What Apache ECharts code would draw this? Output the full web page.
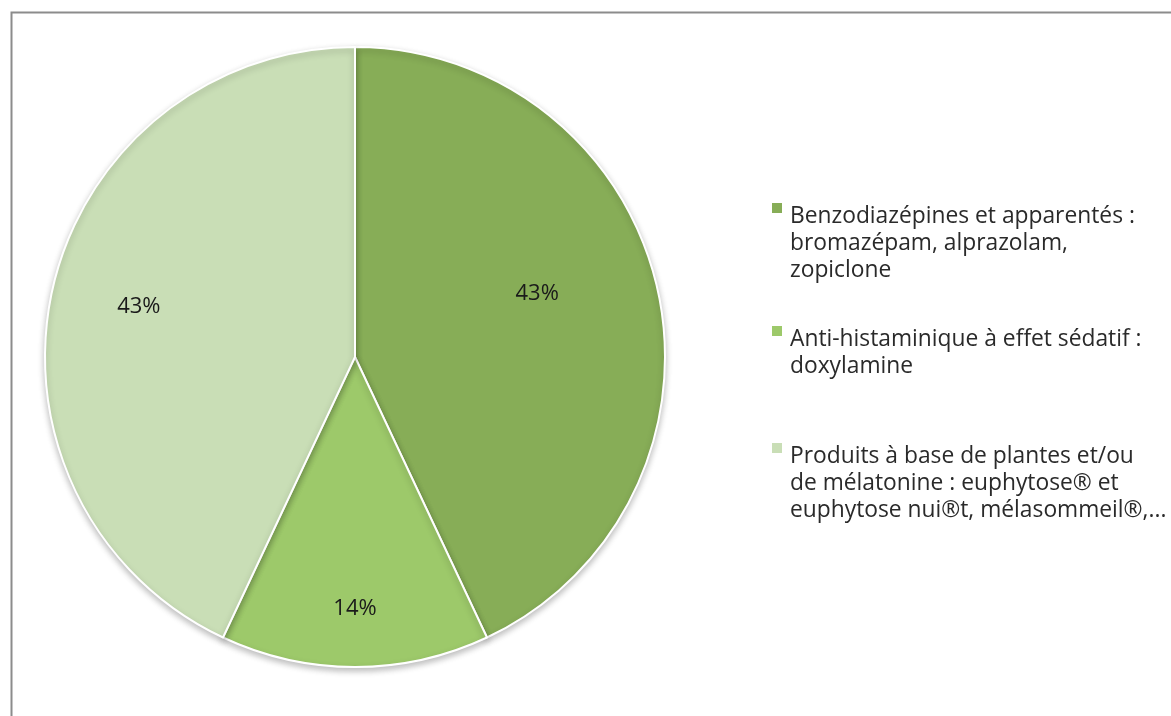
<!DOCTYPE html>
<html>
<head>
<meta charset="utf-8">
<script src="https://cdn.jsdelivr.net/npm/echarts@6/dist/echarts.min.js"></script>
<style>
  html, body { margin: 0; padding: 0; background: #ffffff; }
  #chart { width: 1171px; height: 716px; }
</style>
</head>
<body>
<div id="chart"></div>
<script>
// Share of sleep medication types
const categories = [
  'Benzodiazépines et apparentés :\nbromazépam, alprazolam,\nzopiclone',
  'Anti-histaminique à effet sédatif :\ndoxylamine',
  'Produits à base de plantes et/ou\nde mélatonine : euphytose® et\neuphytose nui®t, mélasommeil®,...'
];
const values = [43, 14, 43];
const colors = ['#87ad57', '#9dc96a', '#c9deb6'];
// nudges for the percentage labels inside each slice
const labelOffsets = [[28, -29], [0, 94], [-62, -16]];
const legendTops = [202, 325, 442];

const FONT = '"Open Sans", "DejaVu Sans", sans-serif';

const chart = echarts.init(document.getElementById('chart'));

const rich = {
  ind: { width: 18, height: 10 },
  g: { width: 8 },
  t: { fontFamily: FONT, fontSize: 22.8, color: '#2a2a2a', lineHeight: 27 }
};
colors.forEach((c, i) => {
  rich['m' + i] = { width: 10, height: 10, backgroundColor: c, verticalAlign: 'top' };
});

const legends = categories.map((name, i) => ({
  data: [name],
  orient: 'vertical',
  left: 766,
  top: legendTops[i],
  padding: 0,
  itemWidth: 0,
  itemHeight: 0,
  itemGap: 0,
  selectedMode: false,
  icon: 'rect',
  formatter: function (n) {
    const idx = categories.indexOf(n);
    return n.split('\n').map((line, k) =>
      (k === 0 ? '{m' + idx + '| }{g|}' : '{ind|}') + '{t|' + line + '}'
    ).join('\n');
  },
  textStyle: { rich: rich, padding: 0 }
}));

chart.setOption({
  animation: false,
  backgroundColor: '#ffffff',
  graphic: [{
    type: 'rect',
    left: 9, top: 10,
    shape: { width: 1300, height: 900 },
    style: { fill: 'none', stroke: '#8c8c8c', lineWidth: 2 },
    silent: true
  }],
  legend: legends,
  series: [{
    type: 'pie',
    center: [355, 357],
    radius: 310,
    startAngle: 90,
    clockwise: true,
    avoidLabelOverlap: false,
    itemStyle: {
      borderColor: '#ffffff',
      borderWidth: 2,
      shadowBlur: 6,
      shadowOffsetY: 3,
      shadowColor: 'rgba(0,0,0,0.25)'
    },
    emphasis: { disabled: true },
    label: {
      show: true,
      position: 'inside',
      formatter: '{c}%',
      fontFamily: FONT,
      fontSize: 22,
      color: '#1a1a1a'
    },
    labelLine: { show: false },
    data: categories.map((name, i) => ({
      name: name,
      value: values[i],
      itemStyle: { color: colors[i] },
      label: { offset: labelOffsets[i] }
    }))
  }]
});
</script>
</body>
</html>
